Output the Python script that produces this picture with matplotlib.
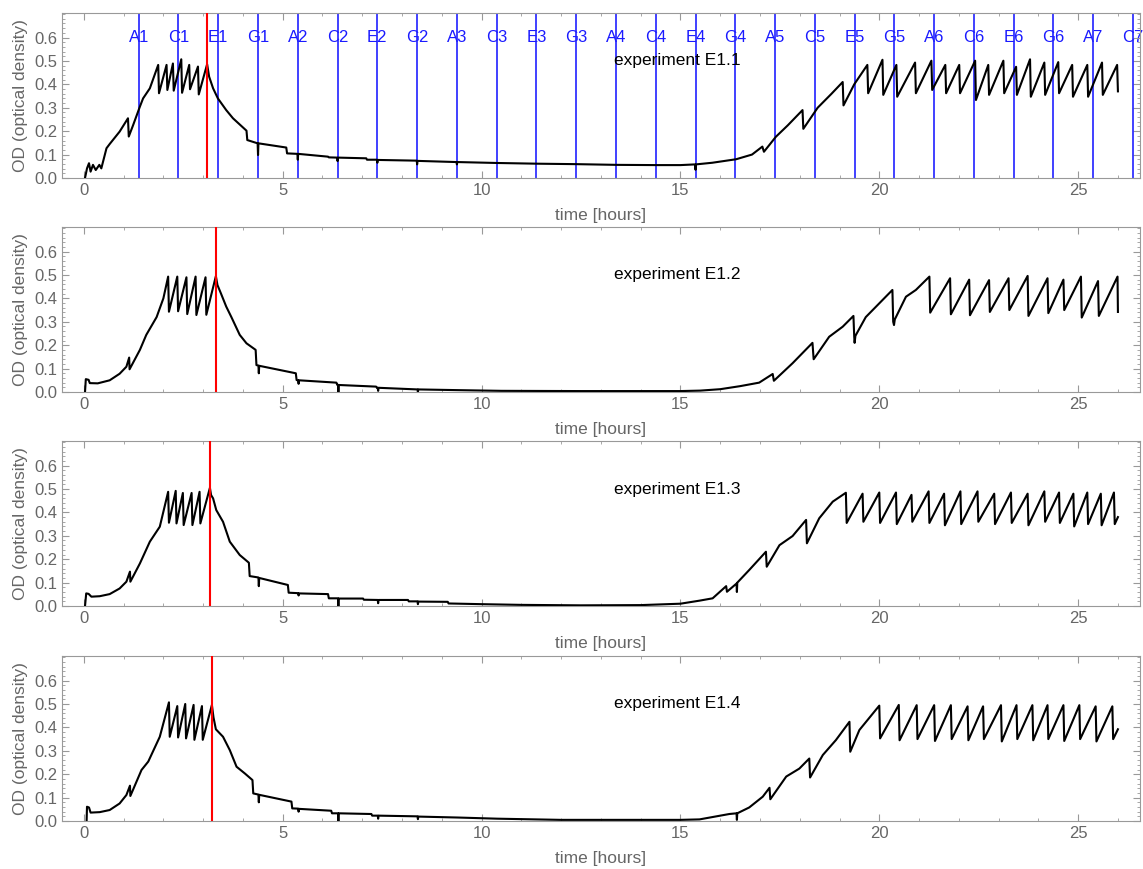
import matplotlib
matplotlib.use("Agg")
import matplotlib.pyplot as plt
from matplotlib.ticker import MultipleLocator

plt.rcParams['font.family'] = ['Liberation Sans', 'DejaVu Sans']

# OD curves (time in hours, OD)
t1 = [0.03, 0.08, 0.13, 0.17, 0.23, 0.30, 0.39, 0.44, 0.57, 0.65, 0.90, 1.11, 1.13, 1.24, 1.41, 1.49, 1.66,
      1.87, 1.89, 2.08, 2.10, 2.24, 2.26, 2.45, 2.47, 2.65, 2.67, 2.87, 2.89, 3.10,
      3.15, 3.25, 3.37, 3.58, 3.75, 4.09, 4.11, 4.37, 4.38, 4.39, 5.09, 5.11, 5.37, 5.38, 5.39,
      6.14, 6.16, 6.37, 6.38, 6.39, 7.10, 7.12, 7.37, 7.38, 7.39, 8.37, 8.38, 8.39, 9.37, 9.38, 9.39,
      10.4, 11.4, 12.4, 13.4, 14.4, 15.0, 15.37, 15.38, 15.39, 15.8, 16.4, 16.8, 17.06, 17.10, 17.4, 17.7,
      18.07, 18.09, 18.45, 18.8, 19.08, 19.10, 19.37,
      19.70, 19.72, 20.08, 20.10, 20.43, 20.45, 20.90, 20.92, 21.31, 21.33, 21.66, 21.68, 22.01, 22.03,
      22.41, 22.43, 22.74, 22.76, 23.12, 23.14, 23.44, 23.46, 23.79, 23.81, 24.15, 24.17, 24.50, 24.52,
      24.85, 24.87, 25.23, 25.25, 25.60, 25.62, 25.98, 26.00]
od1 = [0.0, 0.041, 0.063, 0.027, 0.056, 0.034, 0.056, 0.041, 0.127, 0.145, 0.198, 0.255, 0.177, 0.226, 0.305, 0.34, 0.383,
       0.483, 0.362, 0.483, 0.376, 0.489, 0.373, 0.507, 0.364, 0.483, 0.379, 0.476, 0.357, 0.486,
       0.433, 0.383, 0.34, 0.29, 0.255, 0.202, 0.162, 0.148, 0.098, 0.148, 0.13, 0.105, 0.103, 0.078, 0.103,
       0.091, 0.088, 0.087, 0.072, 0.087, 0.084, 0.078, 0.078, 0.065, 0.077, 0.074, 0.058, 0.073, 0.068, 0.058, 0.068,
       0.064, 0.061, 0.059, 0.056, 0.055, 0.055, 0.058, 0.035, 0.058, 0.065, 0.08, 0.10, 0.134, 0.112, 0.176, 0.225,
       0.29, 0.21, 0.30, 0.36, 0.41, 0.31, 0.40,
       0.483, 0.362, 0.505, 0.355, 0.483, 0.347, 0.493, 0.362, 0.501, 0.376, 0.483, 0.362, 0.483, 0.362,
       0.501, 0.333, 0.483, 0.355, 0.501, 0.362, 0.475, 0.355, 0.507, 0.347, 0.493, 0.355, 0.495, 0.362,
       0.483, 0.347, 0.483, 0.347, 0.493, 0.355, 0.483, 0.37]

t2 = [0.03, 0.05, 0.12, 0.15, 0.35, 0.65, 0.90, 1.07, 1.14, 1.15, 1.41, 1.57, 1.83, 2.0,
      2.12, 2.14, 2.35, 2.37, 2.58, 2.60, 2.81, 2.83, 3.06, 3.08, 3.32,
      3.36, 3.45, 3.58, 3.71, 3.92, 4.09, 4.32, 4.34, 4.39, 4.40, 4.41, 5.33, 5.35, 5.39, 5.40, 5.41,
      6.35, 6.37, 6.39, 6.40, 6.41, 7.35, 7.37, 7.39, 7.40, 7.41, 8.39, 8.40, 8.41,
      9.4, 10.5, 12.5, 15.0, 15.5, 16.0, 16.5, 16.98, 17.32, 17.35, 17.82, 18.32, 18.35, 18.74, 19.08,
      19.35, 19.37, 19.38, 19.40, 19.66, 19.92, 20.33, 20.35, 20.37, 20.39, 20.67, 20.92,
      21.26, 21.28, 21.78, 21.80, 22.26, 22.28, 22.76, 22.78, 23.25, 23.27, 23.73, 23.75, 24.23, 24.25,
      24.63, 24.65, 25.07, 25.09, 25.50, 25.52, 25.99, 26.00]
od2 = [0.0, 0.055, 0.052, 0.038, 0.037, 0.05, 0.078, 0.108, 0.147, 0.097, 0.18, 0.244, 0.32, 0.40,
       0.493, 0.343, 0.493, 0.345, 0.49, 0.333, 0.493, 0.329, 0.49, 0.33, 0.495,
       0.457, 0.42, 0.365, 0.32, 0.244, 0.208, 0.18, 0.115, 0.113, 0.08, 0.112, 0.08, 0.051, 0.05, 0.035, 0.05,
       0.04, 0.031, 0.031, 0.0, 0.03, 0.023, 0.018, 0.018, 0.005, 0.018, 0.011, 0.0, 0.011,
       0.008, 0.005, 0.004, 0.004, 0.006, 0.012, 0.025, 0.04, 0.077, 0.048, 0.123, 0.21, 0.14, 0.236, 0.279,
       0.325, 0.236, 0.21, 0.24, 0.32, 0.365, 0.436, 0.30, 0.286, 0.31, 0.407, 0.436,
       0.493, 0.339, 0.486, 0.332, 0.48, 0.328, 0.478, 0.342, 0.486, 0.35, 0.496, 0.325, 0.486, 0.337,
       0.48, 0.35, 0.493, 0.318, 0.474, 0.325, 0.493, 0.342]

t3 = [0.03, 0.06, 0.12, 0.19, 0.4, 0.65, 0.90, 1.07, 1.16, 1.17, 1.41, 1.66, 1.91,
      2.12, 2.14, 2.31, 2.33, 2.49, 2.51, 2.71, 2.73, 2.91, 2.93, 3.17,
      3.20, 3.25, 3.33, 3.5, 3.67, 3.92, 4.15, 4.17, 4.39, 4.40, 4.41, 5.13, 5.15, 5.39, 5.40, 5.41,
      6.14, 6.16, 6.39, 6.40, 6.41, 7.02, 7.04, 7.39, 7.40, 7.41, 8.15, 8.17, 8.39, 8.40, 8.41, 9.15, 9.17,
      10.0, 11.0, 12.5, 14.0, 15.0, 15.48, 15.81, 16.15, 16.17, 16.41, 16.42, 16.43, 16.73, 17.15, 17.17,
      17.49, 17.82, 18.16, 18.18, 18.49, 18.83,
      19.16, 19.18, 19.58, 19.60, 20.00, 20.02, 20.42, 20.44, 20.81, 20.83, 21.24, 21.26, 21.63, 21.65,
      22.04, 22.06, 22.47, 22.49, 22.89, 22.91, 23.31, 23.33, 23.73, 23.75, 24.15, 24.17, 24.52, 24.54,
      24.88, 24.90, 25.23, 25.25, 25.57, 25.59, 25.90, 25.92, 26.00]
od3 = [0.0, 0.054, 0.052, 0.04, 0.042, 0.051, 0.075, 0.104, 0.147, 0.104, 0.182, 0.275, 0.339,
       0.488, 0.356, 0.492, 0.353, 0.483, 0.346, 0.483, 0.346, 0.488, 0.353, 0.505,
       0.474, 0.46, 0.41, 0.36, 0.275, 0.218, 0.185, 0.128, 0.122, 0.085, 0.12, 0.09, 0.057, 0.055, 0.045, 0.054,
       0.051, 0.033, 0.033, 0.0, 0.032, 0.032, 0.027, 0.026, 0.012, 0.026, 0.026, 0.02, 0.02, 0.008, 0.019, 0.018, 0.011,
       0.008, 0.005, 0.003, 0.004, 0.01, 0.023, 0.033, 0.085, 0.061, 0.096, 0.06, 0.1, 0.154, 0.232, 0.168,
       0.26, 0.299, 0.368, 0.268, 0.375, 0.446,
       0.484, 0.355, 0.48, 0.36, 0.485, 0.355, 0.485, 0.35, 0.475, 0.36, 0.49, 0.355, 0.48, 0.345,
       0.49, 0.35, 0.49, 0.36, 0.48, 0.35, 0.485, 0.355, 0.48, 0.345, 0.49, 0.36, 0.485, 0.355,
       0.48, 0.34, 0.485, 0.35, 0.48, 0.345, 0.485, 0.35, 0.38]

t4 = [0.07, 0.08, 0.13, 0.17, 0.4, 0.65, 0.90, 1.07, 1.16, 1.17, 1.45, 1.62, 1.91,
      2.14, 2.16, 2.35, 2.37, 2.55, 2.57, 2.76, 2.78, 2.97, 2.99, 3.22,
      3.26, 3.32, 3.5, 3.67, 3.84, 4.05, 4.24, 4.26, 4.39, 4.40, 4.41, 5.22, 5.24, 5.39, 5.40, 5.41,
      6.22, 6.24, 6.39, 6.40, 6.41, 7.23, 7.25, 7.39, 7.40, 7.41, 8.39, 8.40, 8.41,
      9.4, 10.4, 12.0, 15.0, 15.48, 16.23, 16.41, 16.42, 16.43, 16.73, 17.07, 17.24, 17.26, 17.66, 17.99,
      18.24, 18.26, 18.58, 18.91, 19.25, 19.27, 19.5,
      20.00, 20.02, 20.49, 20.51, 20.94, 20.96, 21.38, 21.40, 21.80, 21.82, 22.22, 22.24, 22.61, 22.63,
      23.06, 23.08, 23.45, 23.47, 23.85, 23.87, 24.23, 24.25, 24.63, 24.65, 25.03, 25.05, 25.44, 25.46,
      25.86, 25.88, 26.00]
od4 = [0.0, 0.061, 0.058, 0.036, 0.038, 0.047, 0.075, 0.111, 0.151, 0.107, 0.218, 0.254, 0.36,
       0.507, 0.36, 0.491, 0.357, 0.50, 0.353, 0.496, 0.347, 0.491, 0.347, 0.496,
       0.443, 0.392, 0.36, 0.303, 0.232, 0.203, 0.175, 0.118, 0.113, 0.08, 0.112, 0.083, 0.054, 0.053, 0.04, 0.052,
       0.044, 0.033, 0.033, 0.0, 0.033, 0.03, 0.023, 0.023, 0.01, 0.023, 0.02, 0.008, 0.019,
       0.015, 0.01, 0.005, 0.005, 0.007, 0.03, 0.033, 0.005, 0.033, 0.058, 0.104, 0.142, 0.093, 0.19, 0.224,
       0.267, 0.186, 0.282, 0.346, 0.424, 0.296, 0.389,
       0.493, 0.353, 0.496, 0.345, 0.495, 0.35, 0.495, 0.342, 0.495, 0.35, 0.49, 0.345, 0.49, 0.35,
       0.495, 0.34, 0.495, 0.35, 0.495, 0.345, 0.495, 0.35, 0.495, 0.342, 0.495, 0.35, 0.49, 0.34,
       0.49, 0.35, 0.392]

times = [t1, t2, t3, t4]
ods = [od1, od2, od3, od4]
titles = ["experiment E1.1", "experiment E1.2", "experiment E1.3", "experiment E1.4"]
red_times = [3.09, 3.33, 3.17, 3.23]

# sampling marks shown in the first panel
sample_times = [1.38, 2.38, 3.38, 4.38, 5.38, 6.38, 7.38, 8.38, 9.38, 10.38, 11.38, 12.38, 13.38,
                14.38, 15.38, 16.38, 17.38, 18.38, 19.38, 20.38, 21.38, 22.38, 23.38, 24.38, 25.38, 26.38]
sample_labels = ["A1", "C1", "E1", "G1", "A2", "C2", "E2", "G2", "A3", "C3", "E3", "G3", "A4",
                 "C4", "E4", "G4", "A5", "C5", "E5", "G5", "A6", "C6", "E6", "G6", "A7", "C7"]

gray = "#666666"
fig = plt.figure(figsize=(11.43, 8.69), dpi=100)
bottoms = [0.7952, 0.5489, 0.3026, 0.0552]

for i in range(4):
    ax = fig.add_axes([0.0542, bottoms[i], 0.943, 0.1899])
    ax.plot(times[i], ods[i], color="black", lw=1.5, zorder=3)
    ax.axvline(red_times[i], color="red", lw=1.5, zorder=4)
    if i == 0:
        for st, lab in zip(sample_times, sample_labels):
            ax.axvline(st, color="#2020ff", lw=1.2, zorder=2)
            ax.text(st, 0.6, lab, color="#1a1aff", fontsize=12, ha="center", va="center", zorder=1)
    ax.text(13.34, 0.5, titles[i], fontsize=12.5, ha="left", va="center", color="black")
    ax.set_xlim(-0.55, 26.55)
    ax.set_ylim(0, 0.705)
    ax.xaxis.set_major_locator(MultipleLocator(5))
    ax.xaxis.set_minor_locator(MultipleLocator(1))
    ax.yaxis.set_major_locator(MultipleLocator(0.1))
    ax.yaxis.set_minor_locator(MultipleLocator(0.02))
    ax.set_yticks([0.0, 0.1, 0.2, 0.3, 0.4, 0.5, 0.6])
    ax.tick_params(which="both", direction="in", top=True, right=True, colors="#999999",
                   labelcolor=gray, labelsize=12)
    ax.tick_params(which="major", length=5)
    ax.tick_params(which="minor", length=2.5)
    for sp in ax.spines.values():
        sp.set_color("#999999")
    ax.set_xlabel("time [hours]", color=gray, fontsize=12.5, labelpad=7)
    ax.set_ylabel("OD (optical density)", color=gray, fontsize=12.5, labelpad=4)

fig.savefig("out.png", dpi=100)
